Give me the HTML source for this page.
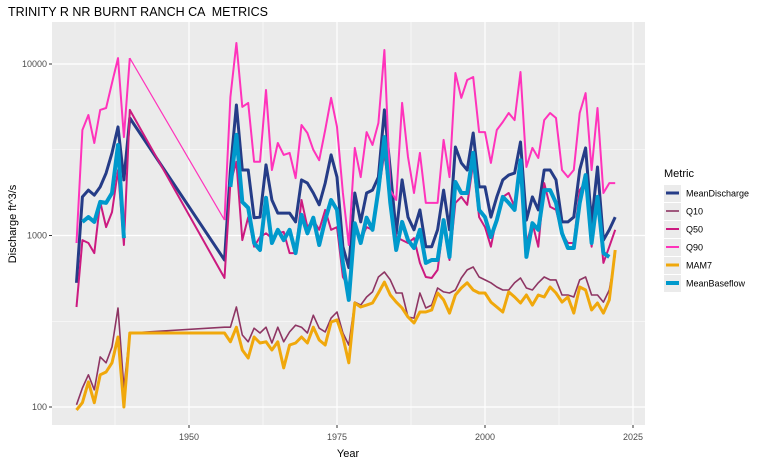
<!DOCTYPE html>
<html><head><meta charset="utf-8"><style>
body{margin:0;background:#fff;font-family:"Liberation Sans",sans-serif}
svg text{font-family:"Liberation Sans",sans-serif}
</style></head><body>
<svg id="chart" width="757" height="464" xmlns="http://www.w3.org/2000/svg">
<rect width="757" height="464" fill="#fff"/>
<text x="8" y="16" font-size="12.5" fill="#000" xml:space="preserve">TRINITY R NR BURNT RANCH CA  METRICS</text>
<rect x="52" y="22" width="593" height="403" fill="#ebebeb"/>
<g id="grid"></g>
<g id="series"></g>
<g id="axes"></g>
<text x="348" y="457" font-size="11" text-anchor="middle" fill="#000">Year</text>
<text transform="translate(16,224) rotate(-90)" font-size="11" text-anchor="middle" fill="#000">Discharge ft^3/s</text>
<g id="legend"></g>
</svg>
<script>
const years=[1931,1932,1933,1934,1935,1936,1937,1938,1939,1940,1956,1957,1958,1959,1960,1961,1962,1963,1964,1965,1966,1967,1968,1969,1970,1971,1972,1973,1974,1975,1976,1977,1978,1979,1980,1981,1982,1983,1984,1985,1986,1987,1988,1989,1990,1991,1992,1993,1994,1995,1996,1997,1998,1999,2000,2001,2002,2003,2004,2005,2006,2007,2008,2009,2010,2011,2012,2013,2014,2015,2016,2017,2018,2019,2020,2021,2022];
const meanDischarge=[530,1680,1840,1720,1920,2310,3030,4300,2110,4840,720,2410,5770,2410,2410,1270,1280,2580,1610,1350,1350,1350,1200,2110,2020,1770,1510,2020,2950,2190,860,650,1770,1200,1770,1840,2190,5400,2410,1030,2110,1280,1080,1410,860,860,1080,1840,1080,3280,2650,2410,3960,1920,1920,1280,1680,2110,2250,2310,3510,1230,1680,1410,2410,2410,2110,1200,1200,1280,2410,3240,1180,2510,940,1080,1280];
const q10=[103,129,154,126,196,181,224,378,129,270,292,292,383,263,240,288,270,292,236,292,240,274,300,292,270,343,288,274,330,358,270,230,409,393,438,469,573,613,551,462,462,335,330,462,378,393,494,469,462,481,565,630,655,573,551,530,501,481,481,530,565,494,481,530,573,551,551,450,450,438,551,573,450,450,409,481,769];
const q50=[383,940,904,790,1570,1120,1370,2410,880,5400,565,2020,2690,940,1280,860,980,1030,966,1030,1050,790,790,1610,1120,1230,1080,1410,1080,1120,573,501,1080,940,1120,1080,1770,3030,1550,980,940,904,966,692,573,565,630,1180,720,1550,1680,1510,2650,1280,1120,860,1280,1680,1770,1470,2310,904,1180,860,2020,1470,1410,1030,904,904,1840,2050,860,1610,692,860,1080];
const q90=[904,4120,5040,3460,5400,5540,7750,10830,3750,10830,1230,6420,13250,5620,5930,2690,2690,7050,2410,3460,2950,3030,2160,4410,3960,3160,2750,4120,6340,4300,1770,880,3240,2190,4010,3370,4530,12070,1840,1610,5930,2870,1770,3030,1550,1550,1550,3610,2190,8860,6340,8070,8400,4010,4010,2650,4120,4590,5180,4710,8980,2510,3240,2830,4710,5180,4840,2410,2190,2410,5180,6770,2410,5540,1770,2020,2020];
const mam7=[96,106,140,106,154,160,181,256,100,270,270,240,292,215,193,256,236,240,215,240,169,230,236,256,236,292,246,230,313,322,256,181,404,383,393,404,462,535,450,409,378,335,309,358,358,368,462,421,353,450,494,530,481,462,462,409,383,358,469,438,404,450,393,450,438,501,462,409,438,353,501,481,368,404,353,421,823];
const meanBaseflow=[null,1200,1280,1200,1570,1550,1770,3370,966,null,null,1920,3860,1570,1450,904,823,1660,904,1080,940,1080,790,1320,1030,1270,880,1230,1610,1410,692,421,1180,904,1270,1080,1840,3750,1550,823,1200,940,846,1080,692,720,720,1230,750,2050,1770,1770,3030,1410,1280,980,1230,1680,1550,1410,2750,750,1180,1080,1840,1840,1550,1030,846,846,1550,2250,904,1680,790,750,null];
const xTicks=[1950,1975,2000,2025];
const yTicks=[100,1000,10000];
const seriesNames=["MeanDischarge","Q10","Q50","Q90","MAM7","MeanBaseflow"];

const NS="http://www.w3.org/2000/svg";
const X=y=>189+(y-1950)*5.92;
const Y=v=>64+(4-Math.log10(v))*171.5;
function mk(tag,attrs,parent){const e=document.createElementNS(NS,tag);for(const k in attrs)e.setAttribute(k,attrs[k]);parent.appendChild(e);return e;}
const grid=document.getElementById('grid'),axes=document.getElementById('axes');
[1937.5,1962.5,1987.5,2012.5].forEach(t=>{const l=mk('line',{x1:X(t),x2:X(t),y1:22,y2:425,stroke:'#fff','stroke-width':0.6},grid);

});
[316.23,3162.3].forEach(v=>{const l=mk('line',{x1:52,x2:645,y1:Y(v),y2:Y(v),stroke:'#fff','stroke-width':0.6},grid);

});
xTicks.forEach(t=>{const l=mk('line',{x1:X(t),x2:X(t),y1:22,y2:425,stroke:'#fff','stroke-width':1.2},grid);


const tk=mk('line',{x1:X(t),x2:X(t),y1:425,y2:428,stroke:'#333','stroke-width':1},axes);


const tx=mk('text',{x:X(t),y:440,'font-size':9,'text-anchor':'middle',fill:'#4d4d4d'},axes);tx.textContent=t;

});
yTicks.forEach(t=>{const l=mk('line',{x1:52,x2:645,y1:Y(t),y2:Y(t),stroke:'#fff','stroke-width':1.2},grid);


const tk=mk('line',{x1:49,x2:52,y1:Y(t),y2:Y(t),stroke:'#333','stroke-width':1},axes);


const tx=mk('text',{x:47,y:Y(t)+3,'font-size':9,'text-anchor':'end',fill:'#4d4d4d'},axes);tx.textContent=t;

});
const styles=[
 {c:'#253c87',w:3},{c:'#8e3563',w:1.6},{c:'#cc1a80',w:2},{c:'#ff33bb',w:2},{c:'#f0a80c',w:3},{c:'#0099cc',w:4}];
const data=[meanDischarge,q10,q50,q90,mam7,meanBaseflow];
const sg=document.getElementById('series');
data.forEach((arr,i)=>{
 if(i===3){
  // thin connector across the 1940-1956 gap
  const a=years.indexOf(1940),b=years.indexOf(1956);
  const c=mk('line',{x1:X(years[a]),y1:Y(arr[a]),x2:X(years[b]),y2:Y(arr[b]),stroke:styles[i].c,'stroke-width':1.2},sg);
  
  
 }
 let d='',pen=false;
 arr.forEach((v,j)=>{if(v==null){pen=false;return;}
  if(i===3&&years[j]===1956)pen=false;
  d+=(pen?'L':'M')+X(years[j]).toFixed(1)+','+Y(v).toFixed(1);pen=true;});
 const p=mk('path',{d:d,fill:'none',stroke:styles[i].c,'stroke-width':styles[i].w,'stroke-linejoin':'round'},sg);
 
 });
const lg=document.getElementById('legend');
const lt=mk('text',{x:664,y:177,'font-size':11,fill:'#000'},lg);lt.textContent='Metric';


seriesNames.forEach((n,i)=>{const yy=193+i*18;
 const r=mk('rect',{x:664,y:yy-8,width:17,height:17,fill:'#ebebeb'},lg);
 
 
 const l=mk('line',{x1:666,x2:679,y1:yy,y2:yy,stroke:styles[i].c,'stroke-width':styles[i].w},lg);
 
 
 const t=mk('text',{x:686,y:yy+3.5,'font-size':9,fill:'#000'},lg);t.textContent=n;
 
 });
</script>
</body></html>
